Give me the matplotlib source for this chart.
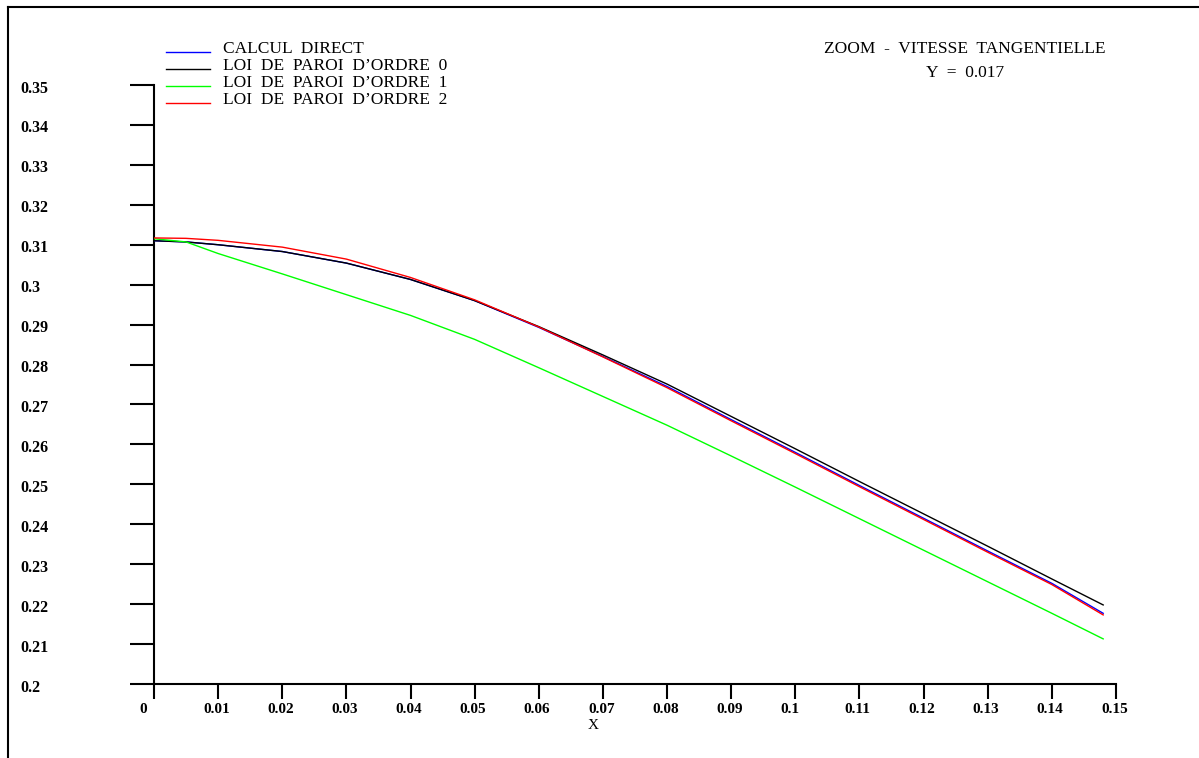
import numpy as np
import matplotlib
matplotlib.use('Agg')
import matplotlib.pyplot as plt
from matplotlib.lines import Line2D
from matplotlib.transforms import ScaledTranslation

plt.rcParams['font.family'] = ['Liberation Serif', 'DejaVu Serif']

# Data
x_vals = [0.0, 0.005, 0.01, 0.02, 0.03, 0.04, 0.05, 0.06, 0.07, 0.08,
          0.09, 0.10, 0.11, 0.12, 0.13, 0.14, 0.148]
calcul_direct = [0.3110, 0.3107, 0.3100, 0.3083, 0.3054, 0.3013, 0.2960, 0.2893, 0.2820,
                 0.2745, 0.2662, 0.2580, 0.2497, 0.2415, 0.2333, 0.2252, 0.2177]
ordre_0 = [0.3110, 0.3107, 0.3100, 0.3083, 0.3054, 0.3013, 0.2960, 0.2895, 0.2824,
           0.2751, 0.2670, 0.2589, 0.2507, 0.2426, 0.2345, 0.2263, 0.2198]
ordre_1 = [0.3115, 0.3107, 0.3078, 0.3027, 0.2975, 0.2923, 0.2863, 0.2792, 0.2720,
           0.2648, 0.2571, 0.2493, 0.2414, 0.2335, 0.2256, 0.2177, 0.2113]
ordre_2 = [0.3117, 0.3116, 0.3111, 0.3094, 0.3064, 0.3018, 0.2962, 0.2894, 0.2819,
           0.2742, 0.2659, 0.2577, 0.2494, 0.2412, 0.2330, 0.2249, 0.2173]

labels = ['CALCUL  DIRECT', 'LOI  DE  PAROI  D\u2019ORDRE  0',
          'LOI  DE  PAROI  D\u2019ORDRE  1', 'LOI  DE  PAROI  D\u2019ORDRE  2']
colors = ['#0000ff', '#000000', '#00ff00', '#ff0000']

x_ticks = [0, 0.01, 0.02, 0.03, 0.04, 0.05, 0.06, 0.07, 0.08, 0.09, 0.1,
           0.11, 0.12, 0.13, 0.14, 0.15]
x_ticklabels = ['0', '0.01', '0.02', '0.03', '0.04', '0.05', '0.06', '0.07', '0.08',
                '0.09', '0.1', '0.11', '0.12', '0.13', '0.14', '0.15']
y_ticks = [0.2, 0.21, 0.22, 0.23, 0.24, 0.25, 0.26, 0.27, 0.28, 0.29, 0.3,
           0.31, 0.32, 0.33, 0.34, 0.35]
y_ticklabels = ['0.2', '0.21', '0.22', '0.23', '0.24', '0.25', '0.26', '0.27', '0.28',
                '0.29', '0.3', '0.31', '0.32', '0.33', '0.34', '0.35']

W, H = 1199, 758
fig = plt.figure(figsize=(W / 100, H / 100), dpi=100)
ax = fig.add_axes([154 / W, (H - 684) / H, 962 / W, 599 / H])

series = [calcul_direct, ordre_0, ordre_1, ordre_2]
# draw order: red, green, blue, black
for idx in [3, 2, 0, 1]:
    ax.plot(x_vals, series[idx], color=colors[idx], lw=1.0, zorder=3 + idx)

ax.set_xlim(0, 0.15)
ax.set_ylim(0.2, 0.35)

for s in ['top', 'right']:
    ax.spines[s].set_visible(False)
for s in ['left', 'bottom']:
    ax.spines[s].set_linewidth(1.5)

ax.set_xticks(x_ticks)
ax.set_xticklabels(x_ticklabels, fontsize=11, fontweight='bold')
ax.set_yticks(y_ticks)
ax.set_yticklabels(y_ticklabels, fontsize=11.5, fontweight='bold')
ax.tick_params(axis='x', direction='out', length=10.8, width=1.5, pad=3)
ax.tick_params(axis='y', direction='out', length=17.3, width=1.5, pad=79)
plt.setp(ax.get_yticklabels(), ha='left')
yoff = ScaledTranslation(0, -1.5 / 100, fig.dpi_scale_trans)
for t in ax.get_yticklabels():
    t.set_transform(t.get_transform() + yoff)
off = ScaledTranslation(-15 / 100, 0, fig.dpi_scale_trans)
for t in ax.get_xticklabels():
    t.set_ha('left')
    t.set_transform(t.get_transform() + off)

ax.set_xlabel('X', fontsize=11)
ax.xaxis.set_label_coords((593 - 154) / 962, (684 - 719) / 599)

# legend, drawn row by row like the reference
for i, (lab, col) in enumerate(zip(labels, colors)):
    yl = 1 - (52 + 17 * i) / H
    fig.add_artist(Line2D([166 / W, 210 / W], [yl, yl], color=col, lw=1.0,
                          transform=fig.transFigure))
    fig.text(223 / W, 1 - (49 + 17 * i) / H, lab, fontsize=12.5, ha='left', va='center')

fig.text(965 / W, 1 - 49 / H, 'ZOOM  -  VITESSE  TANGENTIELLE', fontsize=12.5,
         ha='center', va='center')
fig.text(965 / W, 1 - 73 / H, 'Y  =  0.017', fontsize=12.5, ha='center', va='center')

# outer frame (top and left edges visible)
fig.add_artist(Line2D([8 / W, 1], [1 - 7 / H, 1 - 7 / H], color='black', lw=1.5,
                      transform=fig.transFigure))
fig.add_artist(Line2D([8 / W, 8 / W], [0, 1 - 7 / H], color='black', lw=1.5,
                      transform=fig.transFigure))

fig.savefig('out.png', dpi=100)
